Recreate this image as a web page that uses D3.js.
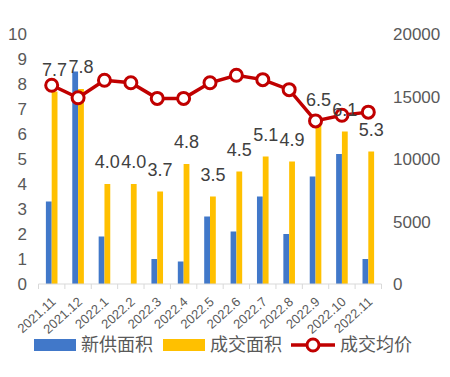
<!DOCTYPE html>
<html>
<head>
<meta charset="utf-8">
<script src="https://cdn.jsdelivr.net/npm/d3@7"></script>
<style>
  body { margin: 0; background: #fff; }
  text { font-family: "Liberation Sans", "Noto Sans CJK SC", sans-serif; }
</style>
</head>
<body>
<script>
// data
var months = ["2021.11","2021.12","2022.1","2022.2","2022.3","2022.4","2022.5","2022.6","2022.7","2022.8","2022.9","2022.10","2022.11"];
var newSupply = [3.3, 8.5, 1.9, 0, 1.0, 0.9, 2.7, 2.1, 3.5, 2.0, 4.3, 5.2, 1.0];
var dealArea = [7.7, 7.8, 4.0, 4.0, 3.7, 4.8, 3.5, 4.5, 5.1, 4.9, 6.5, 6.1, 5.3];
var avgPrice = [15900, 14900, 16300, 16100, 14850, 14850, 16100, 16700, 16350, 15550, 13050, 13500, 13750];
var leftTicks = [0,1,2,3,4,5,6,7,8,9,10];
var rightTicks = [0, 5000, 10000, 15000, 20000];
var seriesNames = ["新供面积", "成交面积", "成交均价"];

var blue = "#4178c9", gold = "#ffc000", red = "#c00000", grey = "#595959";

var width = 450, height = 377;
var margin = {top: 34, left: 38.5, right: 68.5, bottom: 93};

var svg = d3.select("body").append("svg")
  .attr("width", width)
  .attr("height", height);

var x = d3.scaleBand()
  .domain(months)
  .range([margin.left, width - margin.right])
  .padding(0);

var yL = d3.scaleLinear().domain([0, 10]).range([height - margin.bottom, margin.top]);
var yR = d3.scaleLinear().domain([0, 20000]).range([height - margin.bottom, margin.top]);

var barW = 5.8;

// bars
svg.append("g").selectAll("rect.s")
  .data(newSupply)
  .enter().append("rect")
  .attr("x", function(d, i) { return x(months[i]) + x.bandwidth() / 2 - barW; })
  .attr("y", function(d) { return yL(d); })
  .attr("width", barW)
  .attr("height", function(d) { return yL(0) - yL(d); })
  .attr("fill", blue);

svg.append("g").selectAll("rect.d")
  .data(dealArea)
  .enter().append("rect")
  .attr("x", function(d, i) { return x(months[i]) + x.bandwidth() / 2; })
  .attr("y", function(d) { return yL(d); })
  .attr("width", barW)
  .attr("height", function(d) { return yL(0) - yL(d); })
  .attr("fill", gold);

// x axis
var xAxis = svg.append("g")
  .attr("transform", "translate(0," + yL(0) + ")");
xAxis.append("line")
  .attr("x1", margin.left).attr("x2", width - margin.right)
  .attr("stroke", "#d9d9d9").attr("stroke-width", 1);
xAxis.selectAll("line.tick")
  .data(months.concat(["end"]))
  .enter().append("line")
  .attr("x1", function(d, i) { return margin.left + i * x.bandwidth(); })
  .attr("x2", function(d, i) { return margin.left + i * x.bandwidth(); })
  .attr("y1", 0).attr("y2", 5)
  .attr("stroke", "#d9d9d9");
xAxis.selectAll("text")
  .data(months)
  .enter().append("text")
  .attr("transform", function(d) {
    return "translate(" + (x(d) + x.bandwidth() / 2 + 5) + ",19) rotate(-42)";
  })
  .attr("text-anchor", "end")
  .attr("font-size", 13)
  .attr("fill", grey)
  .text(function(d) { return d; });

// y axes labels
svg.append("g").selectAll("text")
  .data(leftTicks)
  .enter().append("text")
  .attr("x", 27)
  .attr("y", function(d) { return yL(d); })
  .attr("dy", "0.36em")
  .attr("text-anchor", "end")
  .attr("font-size", 17)
  .attr("fill", grey)
  .text(function(d) { return d; });

svg.append("g").selectAll("text")
  .data(rightTicks)
  .enter().append("text")
  .attr("x", 393)
  .attr("y", function(d) { return yR(d); })
  .attr("dy", "0.36em")
  .attr("text-anchor", "start")
  .attr("font-size", 17)
  .attr("fill", grey)
  .text(function(d) { return d; });

// line
var line = d3.line()
  .x(function(d, i) { return x(months[i]) + x.bandwidth() / 2; })
  .y(function(d) { return yR(d); });

svg.append("path")
  .datum(avgPrice)
  .attr("d", line)
  .attr("fill", "none")
  .attr("stroke", red)
  .attr("stroke-width", 3.5);

svg.append("g").selectAll("circle")
  .data(avgPrice)
  .enter().append("circle")
  .attr("cx", function(d, i) { return x(months[i]) + x.bandwidth() / 2; })
  .attr("cy", function(d) { return yR(d); })
  .attr("r", 6)
  .attr("fill", "#fff")
  .attr("stroke", red)
  .attr("stroke-width", 3);

// data labels for deal area
svg.append("g").selectAll("text")
  .data(dealArea)
  .enter().append("text")
  .attr("x", function(d, i) { return x(months[i]) + x.bandwidth() / 2 + barW / 2; })
  .attr("y", function(d) { return yL(d) - 16; })
  .attr("text-anchor", "middle")
  .attr("font-size", 18)
  .attr("fill", "#404040")
  .text(function(d) { return d.toFixed(1); });

// legend
var lg = svg.append("g").attr("transform", "translate(0,345)");
lg.append("rect").attr("x", 34).attr("y", -6).attr("width", 42).attr("height", 12).attr("fill", blue);
lg.append("text").attr("x", 81).attr("dy", "0.36em").attr("font-size", 18).attr("fill", grey).text(seriesNames[0]);
lg.append("rect").attr("x", 163).attr("y", -6).attr("width", 42).attr("height", 12).attr("fill", gold);
lg.append("text").attr("x", 210).attr("dy", "0.36em").attr("font-size", 18).attr("fill", grey).text(seriesNames[1]);
lg.append("line").attr("x1", 291).attr("x2", 335).attr("stroke", red).attr("stroke-width", 3.5);
lg.append("circle").attr("cx", 313).attr("r", 6).attr("fill", "#fff").attr("stroke", red).attr("stroke-width", 3);
lg.append("text").attr("x", 340).attr("dy", "0.36em").attr("font-size", 18).attr("fill", grey).text(seriesNames[2]);
</script>
</body>
</html>
